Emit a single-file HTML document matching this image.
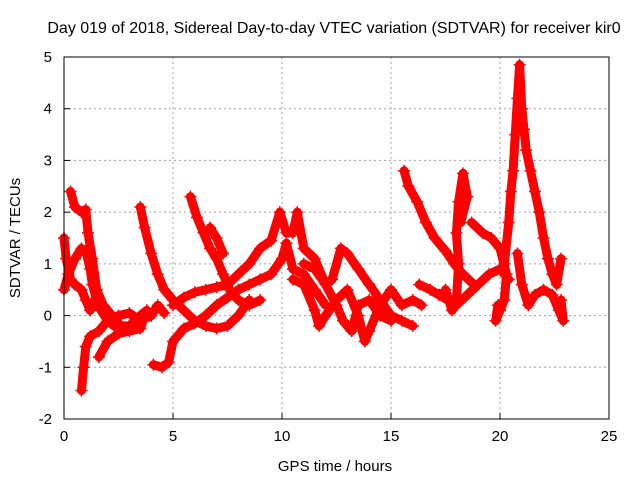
<!DOCTYPE html>
<html><head><meta charset="utf-8"><style>
body{margin:0;background:#fff}
svg{display:block;font-family:"Liberation Sans",sans-serif}
</style></head><body>
<svg id="chart" width="640" height="480">
<text x="334" y="33" font-size="16" text-anchor="middle">Day 019 of 2018, Sidereal Day-to-day VTEC variation (SDTVAR) for receiver kir0</text>
<g id="grid"></g>
<g id="ticks"></g>
<g id="series"></g>
<rect x="64" y="57" width="545" height="362" fill="none" stroke="#000" stroke-width="1"/>
<text x="335" y="471" font-size="15" text-anchor="middle">GPS time / hours</text>
<text x="20" y="238" font-size="15" text-anchor="middle" transform="rotate(-90 20 238)">SDTVAR / TECUs</text>
</svg>
<script>
const xTicks=[0,5,10,15,20,25];
const yTicks=[-2,-1,0,1,2,3,4,5];
const track1=[[0.3,2.4],[0.5,2.1],[0.8,2.0],[1.0,2.05],[1.1,1.6],[1.3,1.1],[1.5,0.5],[1.8,0.2],[2.2,0.0],[2.6,-0.2],[3.0,-0.2],[3.5,0.0],[3.8,0.1]];
const track2=[[0,1.5],[0.1,1.1],[0.3,0.7],[0.5,0.6],[0.8,0.5],[1.0,0.3],[1.2,0.1],[1.4,0.3],[1.7,0.1],[2.0,-0.1],[2.3,-0.2]];
const track3=[[0,0.5],[0.2,0.8],[0.5,1.1],[0.8,1.3],[1.0,1.25],[1.2,0.9],[1.3,0.6],[1.5,0.3]];
const track4=[[0.8,-1.45],[0.9,-1.0],[1.0,-0.6],[1.2,-0.4],[1.6,-0.3],[2.0,-0.1],[2.5,0.0],[3.0,0.05],[3.5,-0.1],[4.0,0.0]];
const track5=[[1.6,-0.8],[2.0,-0.5],[2.5,-0.35],[3.0,-0.3],[3.5,-0.25],[3.8,0.1],[4.0,0.0],[4.3,0.2],[4.6,0.05]];
const track6=[[3.5,2.1],[3.7,1.7],[4.0,1.2],[4.3,0.8],[4.6,0.5],[5.0,0.3],[5.5,0.1],[6.0,-0.1],[6.5,-0.2],[7.0,-0.25],[7.5,-0.2],[8.0,0.0],[8.5,0.3]];
const track7=[[4.1,-0.95],[4.5,-1.0],[4.8,-0.9],[5.0,-0.5],[5.2,-0.4],[5.5,-0.25],[6.0,-0.15],[6.5,0.0],[7.0,0.2],[7.5,0.35],[8.0,0.5],[8.5,0.6],[9.0,0.7],[9.5,0.8],[10.0,1.1],[10.2,1.4],[10.5,0.9],[11.0,0.8],[11.5,0.5],[12.0,0.2]];
const track8=[[5.8,2.3],[6.1,1.9],[6.4,1.6],[6.7,1.3],[7.0,1.1],[7.3,0.8],[7.6,0.5],[8.0,0.3],[8.5,0.2],[9.0,0.3]];
const track9=[[6.7,1.7],[7.0,1.5],[7.3,1.2]];
const track10=[[5.0,0.2],[5.5,0.35],[6.0,0.45],[6.5,0.5],[7.0,0.55],[7.5,0.6],[8.0,0.8],[8.5,1.0],[9.0,1.3],[9.5,1.45],[9.9,2.0],[10.2,1.6],[10.5,1.6],[10.7,2.0],[11.0,1.3],[11.5,1.1],[12.0,0.6],[12.3,0.7],[12.7,1.3],[13.0,1.2],[13.5,0.9],[14.0,0.6],[14.5,0.3],[15.0,0.0],[15.5,-0.1],[16.0,-0.2]];
const track11=[[10.5,0.7],[11.0,0.6],[11.5,0.1],[11.7,-0.2],[12.0,0.0],[12.5,0.3],[13.0,0.5],[13.5,0.0],[13.8,-0.5],[14.0,-0.3],[14.5,0.2],[15.0,0.5],[15.5,0.2],[16.0,0.3],[16.4,0.2]];
const track12=[[11.0,1.0],[11.5,0.9],[12.0,0.6],[12.5,0.2],[12.8,-0.1],[13.2,-0.3],[13.5,0.2],[14.0,0.3],[14.5,0.0],[15.0,-0.1]];
const track13=[[15.6,2.8],[15.8,2.5],[16.2,2.2],[16.6,1.8],[17.0,1.5],[17.5,1.25],[17.9,1.0],[18.3,0.8],[18.8,0.6]];
const track14=[[16.3,0.6],[16.8,0.5],[17.2,0.4],[17.6,0.3],[18.0,0.2],[18.5,0.4],[19.0,0.6],[19.5,0.8],[20.0,0.9],[20.4,0.7]];
const track15=[[17.5,0.5],[17.8,0.1],[18.0,0.3],[18.1,1.0],[18.0,1.6],[18.1,2.2],[18.3,2.75],[18.5,2.3],[18.2,1.8]];
const track16=[[18.7,1.8],[19.2,1.6],[19.6,1.5],[20.0,1.3],[20.3,0.8],[20.2,0.3],[20.0,0.1],[19.8,-0.1],[19.9,0.2]];
const track17=[[20.2,1.0],[20.4,1.8],[20.5,2.4],[20.6,2.8],[20.7,3.5],[20.8,4.2],[20.9,4.85],[21.0,4.0],[21.1,3.6],[21.2,3.2],[21.4,2.8],[21.6,2.4],[21.8,2.0],[22.0,1.5],[22.2,1.1],[22.4,0.8],[22.6,0.6],[22.8,1.1]];
const track18=[[20.8,1.2],[21.0,0.6],[21.3,0.2],[21.6,0.4],[22.0,0.5],[22.4,0.4],[22.7,0.1],[22.9,-0.1],[22.8,0.3]];
const tracks=[track1,track2,track3,track4,track5,track6,track7,track8,track9,track10,track11,track12,track13,track14,track15,track16,track17,track18];

const X0=64,X1=609,Y0=419,Y1=57;
const sx=v=>X0+(v-0)/(25-0)*(X1-X0);
const sy=v=>Y0-(v+2)/(5+2)*(Y0-Y1);
const NS='http://www.w3.org/2000/svg';
const grid=document.getElementById('grid'),ticks=document.getElementById('ticks'),series=document.getElementById('series');
function mk(tag,attrs,parent){const e=document.createElementNS(NS,tag);for(const k in attrs)e.setAttribute(k,attrs[k]);parent.appendChild(e);return e;}
xTicks.forEach(t=>{
  const x=sx(t);
  if(t>0&&t<25){const g=mk('line',{x1:x,x2:x,y1:Y1,y2:Y0,stroke:'#a0a0a0','stroke-dasharray':'2,3'},grid);
  
  }
  const tk=mk('line',{x1:x,x2:x,y1:Y0,y2:Y0-6,stroke:'#000'},ticks);
  
  
  const l=mk('text',{x:x,y:Y0+22,'font-size':15,'text-anchor':'middle'},ticks);l.textContent=t;
  
  
});
yTicks.forEach(t=>{
  const y=sy(t);
  if(t>-2&&t<5){const g=mk('line',{x1:X0,x2:X1,y1:y,y2:y,stroke:'#a0a0a0','stroke-dasharray':'2,3'},grid);
  
  }
  const tk=mk('line',{x1:X0,x2:X0+6,y1:y,y2:y,stroke:'#000'},ticks);
  
  
  const l=mk('text',{x:X0-12,y:y+5,'font-size':15,'text-anchor':'end'},ticks);l.textContent=t;
  
  
});
tracks.forEach((tr,i)=>{
  const pl=mk('polyline',{points:tr.map(p=>sx(p[0])+','+sy(p[1])).join(' '),fill:'none',stroke:'#f00','stroke-width':9,'stroke-linejoin':'round','stroke-linecap':'round'},series);
  
  
  tr.forEach(p=>{
    const x=sx(p[0]),y=sy(p[1]);
    const m=mk('path',{d:`M${x-6},${y}H${x+6}M${x},${y-6}V${y+6}`,stroke:'#f00','stroke-width':1.5},series);
    
    
  });
});
</script>
</body></html>
